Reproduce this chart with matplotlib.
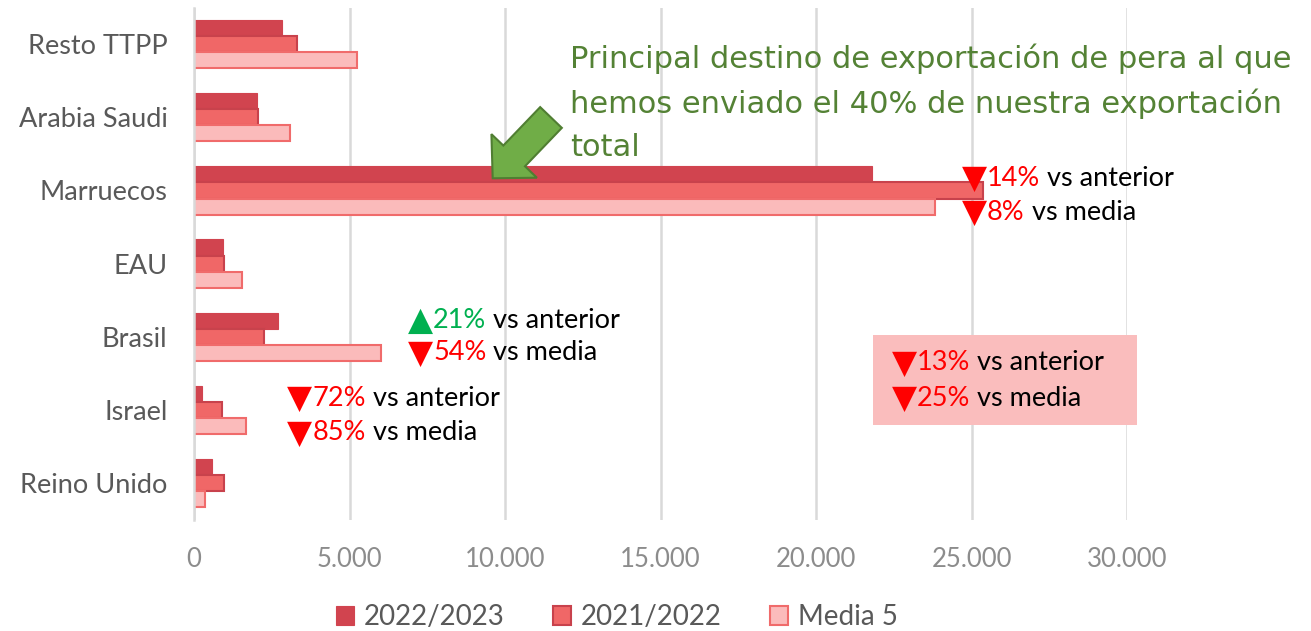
import matplotlib
matplotlib.use("Agg")
import matplotlib.pyplot as plt
import numpy as np
from matplotlib.patches import FancyArrow, Rectangle

plt.rcParams['font.family'] = ['Lato', 'DejaVu Sans']

categories = ["Resto TTPP", "Arabia Saudi", "Marruecos", "EAU", "Brasil", "Israel", "Reino Unido"]
s2223 = [2830, 2020, 21800, 935, 2710, 250, 580]
s2122 = [3300, 2050, 25360, 965, 2250, 890, 955]
media5 = [5240, 3090, 23820, 1555, 6020, 1660, 355]
series_names = ["2022/2023", "2021/2022", "Media 5"]
xticks = [0, 5000, 10000, 15000, 20000, 25000, 30000]
xticklabels = ["0", "5.000", "10.000", "15.000", "20.000", "25.000", "30.000"]

W, H = 1311, 631
fig = plt.figure(figsize=(W / 100, H / 100), dpi=100)
ax = fig.add_axes([194 / W, 1 - 519.6 / H, (1127 - 194) / W, (519.6 - 7.6) / H])

y = np.arange(len(categories))
h = 0.22
c1, c2, c3 = "#D1444F", "#F06767", "#FBBBBB"
ax.barh(y - h, s2223, height=h, color=c1, edgecolor=c1, linewidth=0.8, label=series_names[0], zorder=3)
ax.barh(y, s2122, height=h, color=c2, edgecolor="#C8424C", linewidth=1.5, label=series_names[1], zorder=3)
ax.barh(y + h, media5, height=h, color=c3, edgecolor="#F06B6B", linewidth=1.5, label=series_names[2], zorder=3)

ax.set_ylim(len(categories) - 0.5, -0.5)
ax.set_xlim(0, 30000)
ax.set_yticks(y)
ax.set_yticklabels(categories, fontsize=19.5, color="#595959")
ax.set_xticks(xticks)
ax.set_xticklabels(xticklabels, fontsize=18.5, color="#8C8C8C")
ax.tick_params(axis='y', length=0, pad=19)
ax.tick_params(axis='x', length=0, pad=20)
ax.grid(axis='x', color="#D9D9D9", linewidth=1.8, zorder=0)
for s in ["top", "right", "bottom"]:
    ax.spines[s].set_visible(False)
ax.spines["left"].set_color("#D9D9D9")
ax.spines["left"].set_linewidth(1.8)
ax.spines["left"].set_zorder(4)

leg = fig.legend(loc="center", bbox_to_anchor=(617 / W, 1 - 617 / H), ncol=3, frameon=False,
                 fontsize=20, handlelength=0.65, handleheight=0.65, columnspacing=1.75, handletextpad=0.35)
for t in leg.get_texts():
    t.set_color("#595959")

RED = "#FF0000"
GREEN = "#00B050"

box = Rectangle((873 / W, 1 - 425 / H), (1137 - 873) / W, (425 - 335) / H,
                transform=fig.transFigure, facecolor="#FABDBD", edgecolor="none",
                zorder=5, clip_on=False)
ax.add_patch(box)


def stat(xpx, ypx, tri, pct, rest, col, size=19.5):
    t1 = ax.text(xpx / W, 1 - ypx / H, tri, color=col, fontsize=size + 4,
                 family="DejaVu Sans", va="center", ha="left", zorder=20,
                 transform=fig.transFigure, clip_on=False)
    a2 = ax.annotate(pct, xy=(1, 0.5), xycoords=t1, va="center", ha="left",
                     color=col, fontsize=size, annotation_clip=False, zorder=20)
    ax.annotate(" vs " + rest, xy=(1, 0.5), xycoords=a2, va="center", ha="left",
                color="black", fontsize=size, annotation_clip=False, zorder=20)


stat(962, 178, "▼", "14%", "anterior", RED)
stat(962, 212, "▼", "8%", "media", RED)
stat(408, 320, "▲", "21%", "anterior", GREEN)
stat(408, 353, "▼", "54%", "media", RED)
stat(287, 398, "▼", "72%", "anterior", RED)
stat(287, 433, "▼", "85%", "media", RED)
stat(892, 363, "▼", "13%", "anterior", RED)
stat(892, 398, "▼", "25%", "media", RED)

fig.text(570 / W, 1 - 44 / H,
         "Principal destino de exportación de pera al que\nhemos enviado el 40% de nuestra exportación\ntotal",
         color="#548235", fontsize=22, family="DejaVu Sans", va="top", ha="left", linespacing=1.58)

arr = FancyArrow(5.51, (H - 117.5) / 100, -0.583, -0.608, width=0.30, head_width=0.63,
                 head_length=0.31, length_includes_head=True, transform=fig.dpi_scale_trans,
                 facecolor="#70AD47", edgecolor="#507E32", linewidth=1.5, zorder=10)
fig.add_artist(arr)

fig.savefig("out.png", dpi=100)
